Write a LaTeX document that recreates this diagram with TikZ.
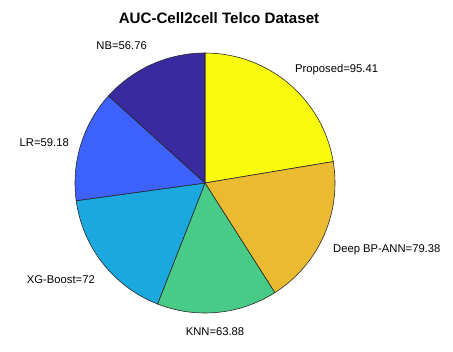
\documentclass[tikz,border=0pt]{standalone}
\usepackage{fontspec}
\setmainfont{Liberation Sans}
\definecolor{propcol}{RGB}{249,251,14}
\definecolor{deepcol}{RGB}{234,186,48}
\definecolor{knncol}{RGB}{72,203,134}
\definecolor{xgbcol}{RGB}{26,168,222}
\definecolor{lrcol}{RGB}{62,98,255}
\definecolor{nbcol}{RGB}{58,42,160}

\begin{document}
\begin{tikzpicture}[x=0.03cm,y=0.03cm,
        slice/.style={draw=black!85,line width=0.5pt},
        lbl/.style={font=\fontsize{9.6}{11}\selectfont,inner sep=0pt},
        ttl/.style={font=\fontsize{12.9}{15}\selectfont\bfseries,inner sep=0pt}
        ]
        \useasboundingbox (0,0) rectangle (453,351);
        \coordinate (centre) at (205,168);
        % slices, clockwise from the top
        \foreach \from/\to/\col in {90/9.49/propcol,9.49/-57.50/deepcol,
                -57.50/-111.41/knncol,-111.41/-172.17/xgbcol,
                -172.17/-222.11/lrcol,-222.11/-270/nbcol}
          \filldraw[slice,fill=\col] (centre) -- ++(\from:130)
            arc[start angle=\from,end angle=\to,radius=130] -- cycle;
        % title and labels
        \node[ttl] (title) at (219,333) {AUC-Cell2cell Telco Dataset};
        \node[lbl,anchor=west] (prop) at (295,281) {Proposed=95.41};
        \node[lbl,anchor=west] (deep) at (333,101) {Deep BP-ANN=79.38};
        \node[lbl] (knn) at (215,19) {KNN=63.88};
        \node[lbl,anchor=east] (xgb) at (95,71) {XG-Boost=72};
        \node[lbl,anchor=east] (lr) at (69,208) {LR=59.18};
        \node[lbl,anchor=east] (nb) at (147,305) {NB=56.76};
\end{tikzpicture}
\end{document}
